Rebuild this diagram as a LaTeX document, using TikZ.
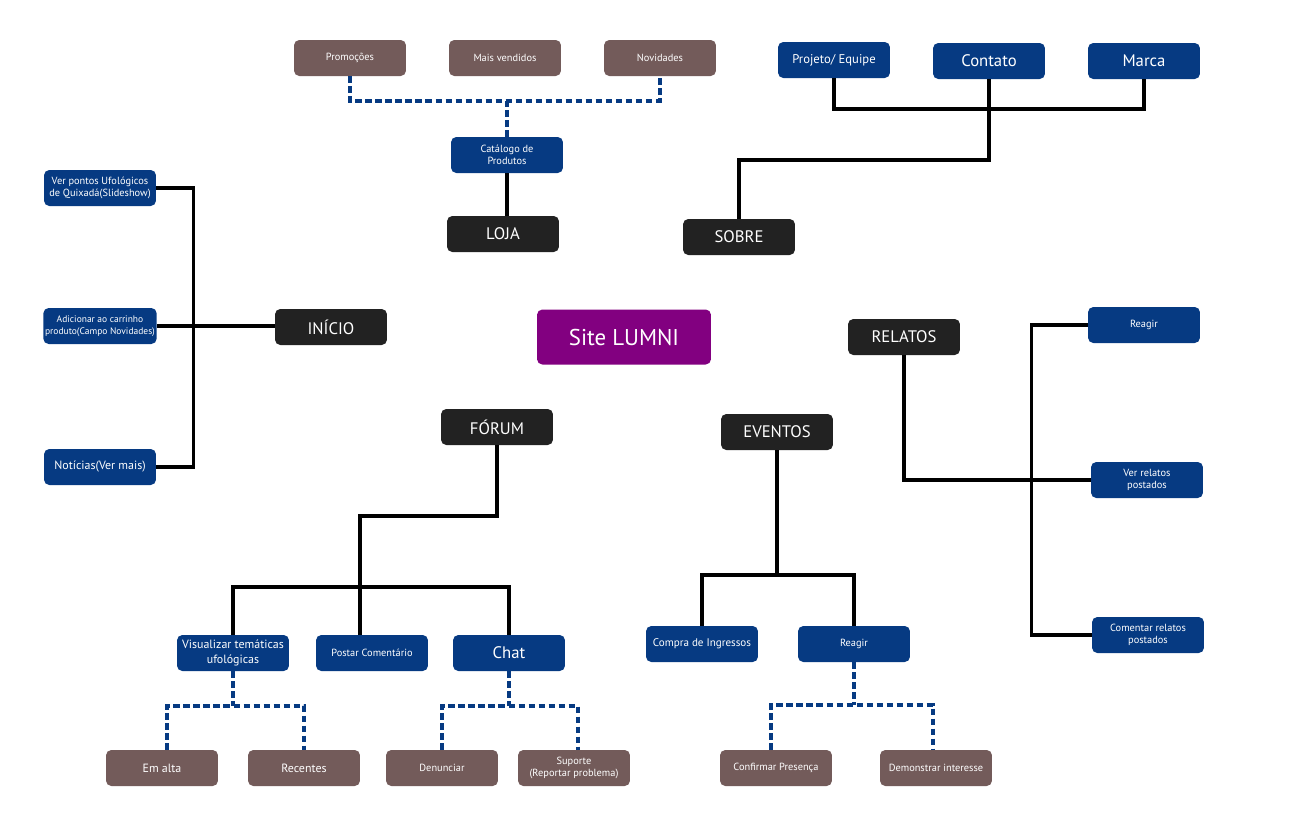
\documentclass[tikz,border=0pt]{standalone}
\usepackage{fontspec}
\setmainfont{PT Sans}
\usepackage{tikz}
\usetikzlibrary{positioning}

\definecolor{lnavy}{HTML}{063A82}
\definecolor{lbrown}{HTML}{735B5A}
\definecolor{lblack}{HTML}{222222}
\definecolor{lpurple}{HTML}{820080}

\begin{document}
\begin{tikzpicture}[
    x=0.02cm, y=-0.02cm,
    box/.style={rectangle, rounded corners=3pt, text=white, minimum width=2.24cm, minimum height=0.72cm, align=center, inner sep=1pt},
    menu/.style={box, fill=lblack, font=\fontsize{9.5}{11}\selectfont},
    sub/.style={box, fill=lnavy, font=\fontsize{5.9}{7.2}\selectfont},
    subbig/.style={sub, font=\fontsize{9.5}{11}\selectfont},
    submid/.style={sub, font=\fontsize{6.8}{8.4}\selectfont},
    leaf/.style={box, fill=lbrown, font=\fontsize{5.9}{7.2}\selectfont},
    leafmid/.style={leaf, font=\fontsize{6.8}{8.4}\selectfont},
    link/.style={draw, line width=2pt},
    dlink/.style={draw=lnavy, line width=2pt, dash pattern=on 3.8pt off 1.9pt}
]
    \useasboundingbox (0,0) rectangle (1296,822);

    % centre
    \node [box, fill=lpurple, minimum width=3.48cm, minimum height=1.1cm, font=\fontsize{13}{15}\selectfont] (site) at (624,337) {Site LUMNI};

    % loja
    \node [leaf] (promo) at (350,58) {Promoções};
    \node [leaf] (maisv) at (505,58) {Mais vendidos};
    \node [leaf] (novid) at (660,58) {Novidades};
    \node [sub] (catalogo) at (507,155) {Catálogo de\\Produtos};
    \node [menu] (loja) at (503,234) {LOJA};

    \coordinate (lojaj) at (507,101);
    \draw [dlink] (promo.south) |- (lojaj) -| (novid.south);
    \draw [dlink] (catalogo.north) -- (lojaj);
    \draw [link] (catalogo.south) -- (catalogo.south |- loja.north);

    % sobre
    \node [sub, font=\fontsize{7.2}{8.4}\selectfont] (projeto) at (834,60) {Projeto/ Equipe};
    \node [subbig] (contato) at (989,61) {Contato};
    \node [subbig] (marca) at (1144,61) {Marca};
    \node [menu] (sobre) at (739,237) {SOBRE};

    \coordinate (sobrej) at (989,109);
    \coordinate (sobrek) at (739,160);
    \draw [link] (projeto.south) |- (sobrej) -| (marca.south);
    \draw [link] (contato.south) |- (sobrek) -- (sobre.north);

    % inicio
    \node [menu] (inicio) at (331,327) {INÍCIO};
    \node [sub] (verpontos) at (100,188) {Ver pontos Ufológicos\\de Quixadá(Slideshow)};
    \node [sub, font=\fontsize{5.4}{7}\selectfont] (carrinho) at (100,326) {Adicionar ao carrinho\\produto(Campo Novidades)};
    \node [submid] (noticias) at (100,467) {Notícias(Ver mais)};

    \draw [link] (verpontos.east) -- ++(37,0) |- (noticias.east);
    \draw [link] (carrinho.east) -- (carrinho.east -| inicio.west);

    % relatos
    \node [menu] (relatos) at (904,337) {RELATOS};
    \node [sub] (reagirr) at (1144,325) {Reagir};
    \node [sub] (verrelatos) at (1147,480) {Ver relatos\\postados};
    \node [sub] (comentar) at (1148,635) {Comentar relatos\\postados};

    \draw [link] (relatos.south) |- (verrelatos.west);
    \draw [link] (reagirr.west) -- ++(-56,0) |- (comentar.west);

    % forum
    \node [menu] (forum) at (497,427) {FÓRUM};
    \node [submid] (visualizar) at (233,653) {Visualizar temáticas\\ufológicas};
    \node [sub] (postar) at (372,653) {Postar Comentário};
    \node [subbig] (chat) at (509,653) {Chat};
    \node [leafmid] (emalta) at (162,768) {Em alta};
    \node [leafmid] (recentes) at (304,768) {Recentes};
    \node [leaf] (denunciar) at (442,768) {Denunciar};
    \node [leaf] (suporte) at (574,768) {Suporte\\(Reportar problema)};

    \coordinate (forumj) at (360,516);
    \coordinate (forumb) at (360,587);
    \draw [link] (forum.south) |- (forumj) -- (forumb);
    \draw [link] (visualizar.north) |- (forumb) -| (chat.north);
    \draw [link] (forumb) -- (forumb |- postar.north);

    \coordinate (visuj) at (233,706);
    \coordinate (chatj) at (509,706);
    \draw [dlink] (visualizar.south) -- (visuj);
    \draw [dlink] ([xshift=0.1cm]emalta.north) |- (visuj) -| (recentes.north);
    \draw [dlink] (chat.south) -- (chatj);
    \draw [dlink] (denunciar.north) |- (chatj) -| ([xshift=0.08cm]suporte.north);

    % eventos
    \node [menu] (eventos) at (777,432) {EVENTOS};
    \node [sub, font=\fontsize{6.3}{7.6}\selectfont] (compra) at (702,644) {Compra de Ingressos};
    \node [sub] (reagire) at (854,644) {Reagir};
    \node [leaf] (confirmar) at (776,768) {Confirmar Presença};
    \node [leaf] (demonstrar) at (936,768) {Demonstrar interesse};

    \coordinate (eventosj) at (777,575);
    \coordinate (reagirj) at (854,705);
    \draw [link] (eventos.south) -- (eventosj);
    \draw [link] (compra.north) |- (eventosj) -| (reagire.north);
    \draw [dlink] (reagire.south) -- (reagirj);
    \draw [dlink] ([xshift=-0.1cm]confirmar.north) |- (reagirj) -| ([xshift=-0.06cm]demonstrar.north);
\end{tikzpicture}
\end{document}
